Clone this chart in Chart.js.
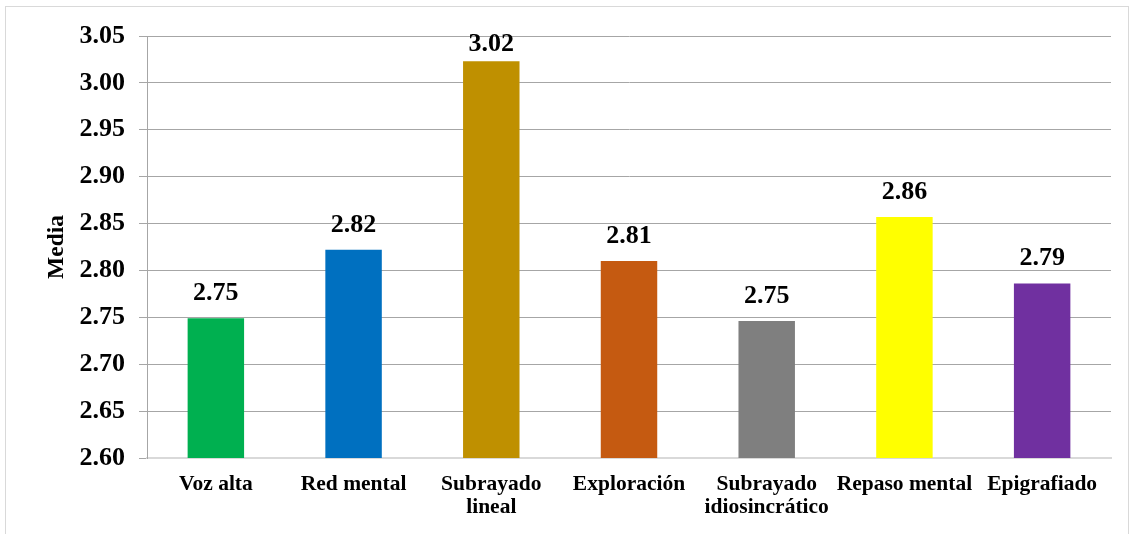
<!DOCTYPE html>
<html>
<head>
<meta charset="utf-8">
<script src="https://cdn.jsdelivr.net/npm/chart.js@4"></script>
<style>
  html, body { margin: 0; padding: 0; background: #fff; }
  #frame { position: absolute; left: 5px; top: 6px; width: 1124px; height: 540px; border: 1px solid #d9d9d9; box-sizing: border-box; }
  #wrap { position: absolute; left: 0; top: 0; width: 1136px; height: 534px; }
</style>
</head>
<body>
<div id="frame"></div>
<div id="wrap"><canvas id="mediaChart"></canvas></div>
<script>
// ------- data -------
const categories = ['Voz alta', 'Red mental', ['Subrayado', 'lineal'], 'Exploración', ['Subrayado', 'idiosincrático'], 'Repaso mental', 'Epigrafiado'];
const medias = [2.749, 2.822, 3.023, 2.810, 2.746, 2.857, 2.786];
const barColors = ['#00B050', '#0070C0', '#BF9000', '#C55A11', '#7F7F7F', '#FFFF00', '#7030A0'];
const yTicks = [2.60, 2.65, 2.70, 2.75, 2.80, 2.85, 2.90, 2.95, 3.00, 3.05];

const serif = "'Liberation Serif', 'Times New Roman', serif";

// labels on top of the bars (kept inside the plot like excel does)
const barLabels = {
  id: 'barLabels',
  afterDatasetsDraw(chart) {
    const ctx = chart.ctx;
    const meta = chart.getDatasetMeta(0);
    ctx.save();
    ctx.font = 'bold 26px ' + serif;
    ctx.fillStyle = '#000';
    ctx.textAlign = 'center';
    ctx.textBaseline = 'bottom';
    meta.data.forEach(function (bar, i) {
      const y = Math.max(bar.y - 12, chart.chartArea.top + 21);
      ctx.fillText(medias[i].toFixed(2), bar.x, y);
    });
    ctx.restore();
  }
};

data = {
  labels: categories,
  datasets: [
    {
      label: 'Media',
      data: medias,
      backgroundColor: barColors,
      categoryPercentage: 1,
      barPercentage: 0.41,
    }
  ]
};

config = {
  type: 'bar',
  data: data,
  options: {
    responsive: false,
    animation: false,
    layout: { padding: { left: 43, top: 36, right: 25, bottom: 0 } },
    plugins: {
      legend: { display: false },
      tooltip: { enabled: false }
    },
    scales: {
      x: {
        grid: { display: false, drawTicks: false },
        border: { display: true, color: '#d9d9d9', width: 2 },
        ticks: {
          padding: 15,
          color: '#000',
          maxRotation: 0,
          autoSkip: false,
          font: { family: serif, size: 21.5, weight: 'bold', lineHeight: 1.08 }
        },
        afterFit(scale) { scale.height = 76; }
      },
      y: {
        min: 2.60,
        max: 3.05,
        afterBuildTicks(scale) {
          scale.ticks = yTicks.map(v => ({ value: v }));
        },
        grid: {
          color: ctx => (ctx.tick && Math.abs(ctx.tick.value - 2.60) < 1e-6) ? 'rgba(0,0,0,0)' : '#a6a6a6',
          tickColor: '#a6a6a6',
          tickLength: 8
        },
        border: { display: true, color: '#a6a6a6' },
        ticks: {
          padding: 14,
          color: '#000',
          callback: v => Number(v).toFixed(2),
          font: { family: serif, size: 26, weight: 'bold' }
        },
        title: {
          display: true,
          text: 'Media',
          color: '#000',
          padding: 0,
          font: { family: serif, size: 23.5, weight: 'bold' }
        },
        afterFit(scale) { scale.width = 104; }
      }
    }
  },
  plugins: [barLabels]
};

const canvas = document.getElementById('mediaChart');
canvas.width = 1136;
canvas.height = 534;
myChart = new Chart(canvas, config);
</script>
</body>
</html>
